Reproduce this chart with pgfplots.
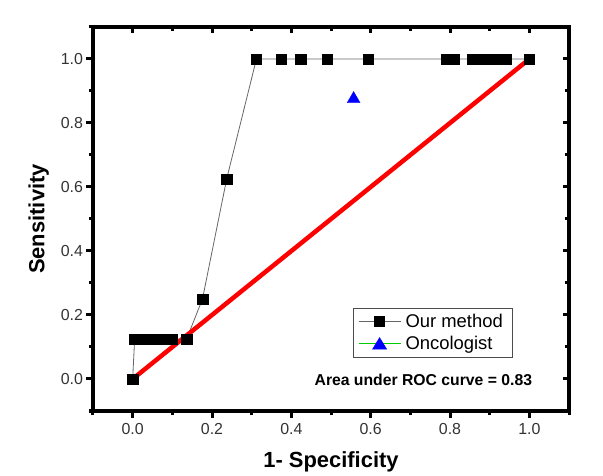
\documentclass[border=0pt]{standalone}
\usepackage{pgfplots}
\pgfplotsset{compat=1.18}
\usepackage{fontspec}
\setmainfont{Liberation Sans}
\definecolor{ticklab}{HTML}{333333}
\begin{document}
\begin{tikzpicture}
\pgfplotsset{
  common/.style={
    width=476bp, height=384bp, scale only axis,
    xmin=-0.1, xmax=1.1, ymin=-0.1, ymax=1.1,
    xtick={0,0.2,...,1.0}, ytick={0,0.2,...,1.0},
    minor xtick={-0.1,0.1,0.3,0.5,0.7,0.9,1.1},
    minor ytick={-0.1,0.1,0.3,0.5,0.7,0.9,1.1},
    major tick length=6.5bp, minor tick length=4bp,
    every tick/.append style={line width=3bp, black},
    major tick style={line width=3bp, black},
    minor tick style={line width=3bp, black},
  }
}
\begin{axis}[common, name=ax,
    axis line style={line width=3.6bp},
    xtick pos=left, ytick pos=left,
    tick align=outside,
    xticklabel style={font=\fontsize{16}{16}\selectfont, text=ticklab, yshift=-2bp},
    yticklabel style={font=\fontsize{16}{16}\selectfont, text=ticklab},
    /pgf/number format/assume math mode=true,
    /pgf/number format/.cd, fixed, fixed zerofill, precision=1, /pgfplots/.cd,
    xlabel={\bfseries 1- Specificity},
    ylabel={\bfseries Sensitivity},
    xlabel style={font=\fontsize{22}{22}\selectfont, yshift=-10bp},
    ylabel style={font=\fontsize{22}{22}\selectfont, yshift=5bp},
    legend style={at={(rel axis cs:0.546,0.268)}, anchor=north west,
      font=\fontsize{18.5}{22}\selectfont, draw=black!70, line width=0.6bp,
      inner xsep=5bp, inner ysep=4bp, row sep=3bp,
      nodes={inner xsep=4.5bp}},
    legend cell align=left,
    clip=false,
]
\addplot[color=black!60, line width=0.8bp, mark=square*, mark size=5.2bp,
  mark options={fill=black, draw=black, solid, line width=0.3bp},
  legend image code/.code={
    \draw[black!60, line width=0.8bp] (0bp,0bp) -- (42bp,0bp);
    \fill[black] (16bp,-5bp) rectangle (26bp,5bp);
  }] coordinates {
(0,0)
(0.005,0.125) (0.025,0.125) (0.045,0.125) (0.065,0.125) (0.085,0.125) (0.1,0.125)
(0.136,0.125)
(0.176,0.25)
(0.237,0.625)
(0.312,1) (0.375,1) (0.423,1) (0.49,1) (0.594,1)
(0.79,1) (0.81,1)
(0.857,1) (0.878,1) (0.9,1) (0.92,1) (0.94,1)
(1.0,1)
};
\addlegendentry{Our method}
\addplot[color=green!80!black, line width=0.5bp, only marks, mark=triangle*, mark size=7.5bp,
  mark options={fill=blue, draw=blue, line width=0.3bp},
  legend image code/.code={
    \draw[green!80!black, line width=0.6bp] (0bp,0bp) -- (42bp,0bp);
    \fill[blue] (21bp,6bp) -- (14bp,-5.5bp) -- (28bp,-5.5bp) -- cycle;
  }] coordinates {(0.557,0.875)};
\addlegendentry{Oncologist}
\addplot[red, line width=4.5bp, forget plot] coordinates {(0,0) (1,1)};
\node[font=\bfseries\fontsize{15.8}{16}\selectfont] at (rel axis cs:0.694,0.081) {Area under ROC curve = 0.83};
\draw[line width=3.4bp, line cap=rect] (rel axis cs:0,0) rectangle (rel axis cs:1,1);
\end{axis}
\begin{axis}[common,
    axis line style={draw=none},
    xtick pos=right, ytick pos=right,
    tick align=inside,
    xticklabels={}, yticklabels={},
]
\end{axis}
\pgfresetboundingbox
\path[use as bounding box] ([xshift=-93bp,yshift=-65bp]ax.south west) rectangle ([xshift=34bp,yshift=27bp]ax.north east);
\end{tikzpicture}
\end{document}
